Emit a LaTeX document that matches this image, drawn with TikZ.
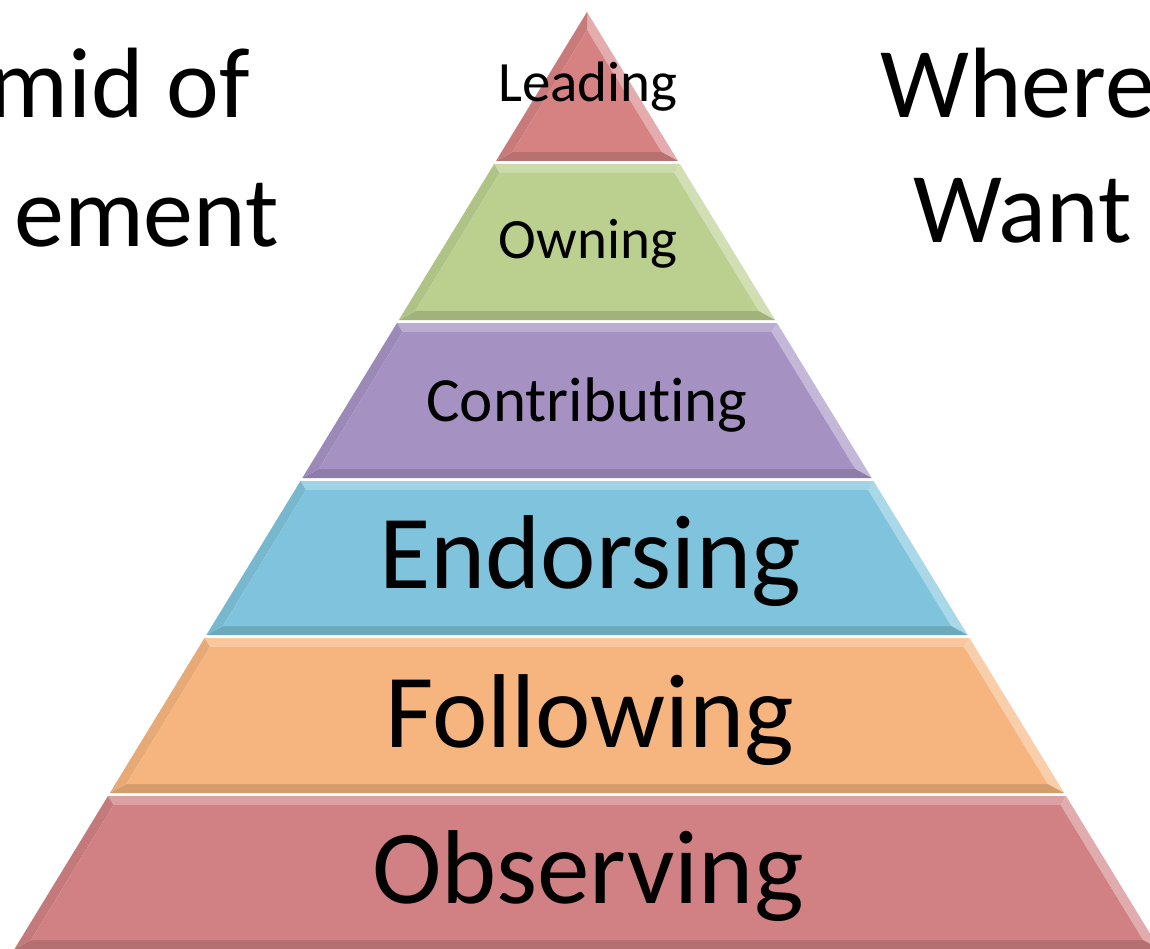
\documentclass[tikz,border=0pt]{standalone}
\usepackage{fontspec}
\setmainfont[Ligatures=NoCommon]{Carlito}
\definecolor{leadred}{HTML}{D68282}
\definecolor{owngreen}{HTML}{BBCF8F}
\definecolor{contpurple}{HTML}{A592C3}
\definecolor{endblue}{HTML}{7FC4DC}
\definecolor{follorange}{HTML}{F6B47E}
\definecolor{obsred}{HTML}{D18183}
% one bevelled band of the pyramid: top y, bottom y, colour
\newcommand{\pyrband}[3]{%
  \pgfmathsetmacro{\tl}{587-(#1-12)*0.611}
  \pgfmathsetmacro{\tr}{587+(#1-12)*0.611}
  \pgfmathsetmacro{\bl}{587-(#2-12)*0.611}
  \pgfmathsetmacro{\br}{587+(#2-12)*0.611}
  \pgfmathsetmacro{\ti}{max(#1+9,30)}
  \pgfmathsetmacro{\bi}{#2-9}
  \pgfmathsetmacro{\itl}{587-(\ti-12)*0.611+11}
  \pgfmathsetmacro{\itr}{587+(\ti-12)*0.611-11}
  \pgfmathsetmacro{\ibl}{587-(\bi-12)*0.611+11}
  \pgfmathsetmacro{\ibr}{587+(\bi-12)*0.611-11}
  \fill[#3!75!white] (\tl,#1) -- (\tr,#1) -- (\itr,\ti) -- (\itl,\ti) -- cycle;
  \fill[#3!66!white] (\tr,#1) -- (\br,#2) -- (\ibr,\bi) -- (\itr,\ti) -- cycle;
  \fill[#3!86!black] (\bl,#2) -- (\br,#2) -- (\ibr,\bi) -- (\ibl,\bi) -- cycle;
  \fill[#3!94!black] (\tl,#1) -- (\bl,#2) -- (\ibl,\bi) -- (\itl,\ti) -- cycle;
  \fill[#3] (\itl,\ti) -- (\itr,\ti) -- (\ibr,\bi) -- (\ibl,\bi) -- cycle;
}
\begin{document}
\begin{tikzpicture}[x=1pt, y=-1pt,
    smalllabel/.style={anchor=base, inner sep=0pt, font=\fontsize{57}{60}\selectfont},
    biglabel/.style={anchor=base, inner sep=0pt, font=\fontsize{105}{110}\selectfont},
    sidetext/.style={inner sep=0pt, font=\fontsize{100}{105}\selectfont}]
  \useasboundingbox (0, 0) rectangle (1150, 949);
  \pyrband{12}{161}{leadred}
  \pyrband{164}{320}{owngreen}
  \pyrband{323}{478}{contpurple}
  \pyrband{481}{635}{endblue}
  \pyrband{638}{793}{follorange}
  \pyrband{796}{949}{obsred}
  \node[smalllabel] (leading) at (588, 102) {Leading};
  \node[smalllabel] (owning) at (588, 259) {Owning};
  \node[smalllabel, font=\fontsize{63}{66}\selectfont] (contrib) at (587, 421) {Contributing};
  \node[biglabel] (endorse) at (590, 588) {Endorsing};
  \node[biglabel] (follow) at (590, 747) {Following};
  \node[biglabel] (observe) at (588, 903) {Observing};
  \node[sidetext, anchor=base east] (leftA) at (250, 118) {mid of};
  \node[sidetext, anchor=base east] (leftB) at (279, 247) {ement};
  \node[sidetext, anchor=base west] (rightA) at (880, 118) {Where};
  \node[sidetext, anchor=base west] (rightB) at (913, 243) {Want};
\end{tikzpicture}
\end{document}
